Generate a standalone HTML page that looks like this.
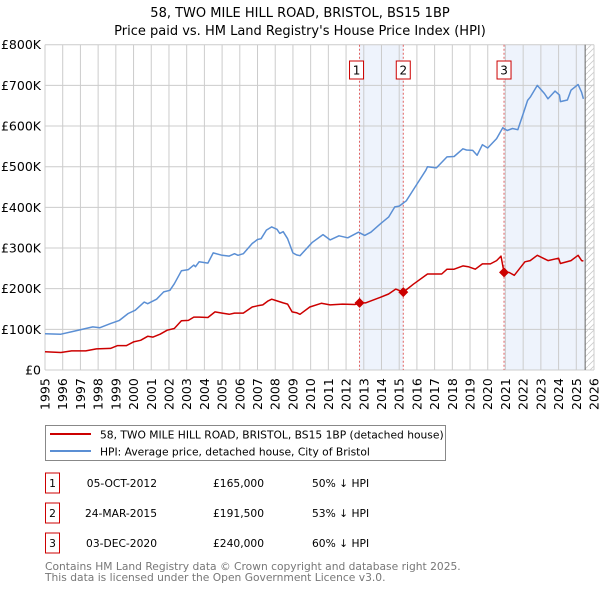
<!DOCTYPE html>
<html><head><meta charset="utf-8"><style>
body{margin:0;background:#fff;font-family:"Liberation Sans","DejaVu Sans",sans-serif;}
svg text{font-family:"DejaVu Sans","Liberation Sans",sans-serif;}
</style></head><body>
<svg id="c" width="600" height="590" xmlns="http://www.w3.org/2000/svg"></svg>
<script>
const hpiYears=[1995,1995.9,1996.6,1997.7,1998.1,1998.7,1999.2,1999.7,2000.1,2000.6,2000.8,2001.3,2001.7,2002.05,2002.3,2002.7,2003.1,2003.4,2003.5,2003.7,2004.2,2004.5,2005.0,2005.4,2005.7,2005.9,2006.2,2006.7,2007.0,2007.2,2007.5,2007.8,2008.1,2008.25,2008.45,2008.7,2009.0,2009.2,2009.4,2010.1,2010.7,2011.1,2011.6,2012.1,2012.7,2013.05,2013.4,2013.9,2014.4,2014.75,2015.0,2015.4,2015.9,2016.5,2016.6,2017.1,2017.7,2018.1,2018.6,2018.8,2019.15,2019.4,2019.7,2020.0,2020.5,2020.85,2021.1,2021.4,2021.7,2022.0,2022.25,2022.4,2022.8,2023.2,2023.4,2023.8,2024.05,2024.1,2024.5,2024.7,2025.1,2025.3,2025.4];
const hpiValues=[89,88,95,106,104,114,122,139,147,167,163,174,192,196,212,244,247,258,254,266,263,288,282,280,286,282,286,311,321,323,344,352,346,336,340,323,288,283,281,314,333,320,330,325,339,331,339,358,376,401,403,416,450,491,500,497,524,525,544,541,540,528,554,546,569,596,589,594,591,630,663,671,700,680,667,686,676,660,664,688,702,683,667];
const ppYears=[1995,1995.9,1996.5,1997.3,1997.9,1998.7,1999.1,1999.6,2000.0,2000.4,2000.8,2001.1,2001.5,2001.9,2002.3,2002.7,2003.1,2003.4,2003.7,2004.2,2004.6,2005.0,2005.4,2005.7,2006.2,2006.7,2007.0,2007.3,2007.6,2007.8,2008.1,2008.45,2008.7,2008.95,2009.2,2009.4,2009.95,2010.6,2011.1,2011.8,2012.5,2012.76,2013.1,2013.9,2014.4,2014.8,2015.23,2015.8,2016.6,2017.4,2017.7,2018.1,2018.6,2018.9,2019.3,2019.7,2020.15,2020.5,2020.75,2020.92,2021.2,2021.5,2022.1,2022.4,2022.8,2023.4,2024.0,2024.1,2024.7,2025.1,2025.3,2025.4];
const ppValues=[45,43,47,47,52,53,60,60,69,73,83,81,88,98,102,121,122,130,130,129,143,140,137,140,140,155,158,160,170,174,170,165,162,143,141,137,155,164,160,162,161,165,165,178,187,199,191.5,211,236,236,248,248,256,254,248,261,261,269,280,240,240,233,266,269,282,269,275,262,269,282,269,268];
const saleYears=[2012.76,2015.23,2020.92];
const saleValues=[165,191.5,240];
const saleLabels=["1","2","3"];
const yTicks=[0,100,200,300,400,500,600,700,800];
const yTickLabels=["£0","£100K","£200K","£300K","£400K","£500K","£600K","£700K","£800K"];
const xTicks=[];for(let y=1995;y<=2026;y++)xTicks.push(y);

const X0=45,X1=594,Y0=370,Y1=44.7,dataEnd=2025.5;
const sx=y=>X0+(y-1995)/(2026-1995)*(X1-X0);
const sy=v=>Y0-(v/800)*(Y0-Y1);
const svg=document.getElementById('c');
const NS="http://www.w3.org/2000/svg";
function mk(tag,attrs,parent){const e=document.createElementNS(NS,tag);for(const k in attrs)e.setAttribute(k,attrs[k]);(parent||svg).appendChild(e);return e;}

let t=mk('text',{x:300,y:17,'text-anchor':'middle','font-size':13});t.textContent="58, TWO MILE HILL ROAD, BRISTOL, BS15 1BP";


t=mk('text',{x:300,y:35,'text-anchor':'middle','font-size':13});t.textContent="Price paid vs. HM Land Registry's House Price Index (HPI)";



let r=mk('rect',{x:sx(saleYears[0]),y:Y1,width:sx(saleYears[1])-sx(saleYears[0]),height:Y0-Y1,fill:'#eef3fc'});


r=mk('rect',{x:sx(saleYears[2]),y:Y1,width:sx(dataEnd)-sx(saleYears[2]),height:Y0-Y1,fill:'#eef3fc'});


const defs=mk('defs',{});
const pat=mk('pattern',{id:'h',width:6,height:6,patternUnits:'userSpaceOnUse'},defs);
mk('path',{d:'M0,6 L6,0',stroke:'#ccc','stroke-width':0.8},pat);
r=mk('rect',{x:sx(dataEnd),y:Y1,width:X1-sx(dataEnd),height:Y0-Y1,fill:'url(#h)'});



xTicks.forEach(y=>{const l=mk('line',{x1:sx(y),x2:sx(y),y1:Y1,y2:Y0,stroke:'#cccccc','stroke-width':1});


const tx=mk('text',{x:0,y:0,'font-size':12.5,transform:`translate(${sx(y)+4.5},${410}) rotate(-90)`});tx.textContent=y;

});
yTicks.forEach((v,i)=>{const l=mk('line',{x1:X0,x2:X1,y1:sy(v),y2:sy(v),stroke:'#cccccc','stroke-width':1});


const tx=mk('text',{x:41,y:sy(v)+4.5,'text-anchor':'end','font-size':12.5});tx.textContent=yTickLabels[i];

});
let l=mk('line',{x1:sx(dataEnd),x2:sx(dataEnd),y1:Y1,y2:Y0,stroke:'#666','stroke-width':1});



saleYears.forEach((y,i)=>{const ln=mk('line',{x1:sx(y),x2:sx(y),y1:Y1,y2:Y0,stroke:'#e06060','stroke-width':1,'stroke-dasharray':'2,2'});


const g=mk('g',{});


const bx=sx(y)-(i==0?10:7);
mk('rect',{x:bx,y:61,width:14,height:18,fill:'#fff',stroke:'#cc0000','stroke-width':1},g);
const tx=mk('text',{x:bx+7,y:74.5,'text-anchor':'middle','font-size':12},g);tx.textContent=saleLabels[i];});

function path(xs,vs,color,name){const d=xs.map((y,i)=>(i?'L':'M')+sx(y).toFixed(1)+','+sy(vs[i]).toFixed(1)).join(' ');
const p=mk('path',{d:d,fill:'none',stroke:color,'stroke-width':1.5,'stroke-linejoin':'round'});

}
path(hpiYears,hpiValues,'#5b8fd4','hpi-line');
path(ppYears,ppValues,'#cc0000','price-paid-line');
saleYears.forEach((y,i)=>{const c=mk('path',{d:`M${sx(y)},${sy(saleValues[i])-5} l5,5 l-5,5 l-5,-5z`,fill:'#cc0000'});

});

const lg=mk('g',{});


mk('rect',{x:45.5,y:425.5,width:400,height:35,fill:'#fff',stroke:'#888'},lg);
mk('line',{x1:50,x2:91,y1:434,y2:434,stroke:'#cc0000','stroke-width':2},lg);
mk('line',{x1:50,x2:91,y1:451,y2:451,stroke:'#5b8fd4','stroke-width':2},lg);
t=mk('text',{x:100,y:438.5,'font-size':10.7},lg);t.textContent="58, TWO MILE HILL ROAD, BRISTOL, BS15 1BP (detached house)";


t=mk('text',{x:100,y:455.5,'font-size':10.7},lg);t.textContent="HPI: Average price, detached house, City of Bristol";



const dates=["05-OCT-2012","24-MAR-2015","03-DEC-2020"],prices=["£165,000","£191,500","£240,000"],pct=["50% ↓ HPI","53% ↓ HPI","60% ↓ HPI"];
dates.forEach((d,i)=>{const cy=483+i*30;const g=mk('g',{});


mk('rect',{x:45.5,y:cy-10,width:14,height:20,fill:'#fff',stroke:'#cc0000'},g);
let a=mk('text',{x:52.5,y:cy+4,'text-anchor':'middle','font-size':10.7},g);a.textContent=saleLabels[i];
a=mk('text',{x:157,y:cy+4,'text-anchor':'end','font-size':10.7},g);a.textContent=d;
a=mk('text',{x:264,y:cy+4,'text-anchor':'end','font-size':10.7},g);a.textContent=prices[i];
a=mk('text',{x:312,y:cy+4,'font-size':10.7},g);a.textContent=pct[i];});
t=mk('text',{x:45,y:570,'font-size':10.7,fill:'#777'});t.textContent="Contains HM Land Registry data © Crown copyright and database right 2025.";


t=mk('text',{x:45,y:581,'font-size':10.7,fill:'#777'});t.textContent="This data is licensed under the Open Government Licence v3.0.";


</script>
</body></html>
